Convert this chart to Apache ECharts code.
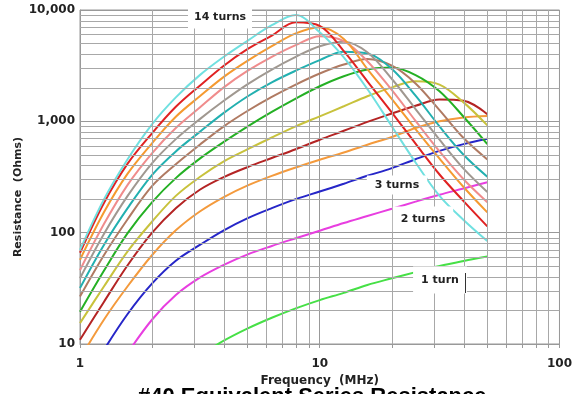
<!DOCTYPE html>
<html><head><meta charset="utf-8">
<script src="https://cdn.jsdelivr.net/npm/echarts@6/dist/echarts.min.js"></script>
<style>html,body{margin:0;padding:0;background:#fff}#c{width:575px;height:394px}</style>
</head><body><div id="c"></div>
<script>
// Frequency samples (MHz) shared by every curve
const freq = [1, 1.26, 1.58, 2, 2.51, 3.16, 3.98, 5.01, 6.31, 7.94, 10, 12.6, 15.8, 20, 25.1, 31.6, 39.8, 50];
// Resistance (Ohms) per number of turns (null = not drawn)
const turns1  = [null, null, null, null, null, 7.9, 10.7, 13.8, 17.2, 20.9, 24.8, 28.8, 33.9, 38.9, 44.2, 50.1, 55.6, 61];
const turns2  = [null, null, 8.3, 16.6, 27.5, 39.4, 51.3, 63.8, 75.9, 89, 104, 122, 141, 164, 190, 219, 249, 284];
const turns3  = [null, 8.9, 18.6, 35, 56, 77.6, 105, 135, 166, 200, 234, 275, 324, 380, 457, 543, 624, 698];
const turns4  = [7.4, 16.6, 33, 63, 105, 155, 209, 266, 324, 385, 452, 525, 617, 724, 871, 1000, 1084, 1117];
const turns5  = [10.9, 24, 51, 100, 166, 243, 316, 389, 468, 562, 684, 822, 989, 1175, 1380, 1567, 1530, 1160];
const turns6  = [15.4, 33, 68, 126, 214, 316, 437, 562, 716, 902, 1109, 1365, 1680, 2020, 2290, 2140, 1480, 920];
const turns7  = [19.5, 45.7, 99, 188, 309, 462, 653, 902, 1216, 1600, 2065, 2540, 2920, 3040, 2600, 1860, 1100, 625];
const turns8  = [26.7, 63, 132, 263, 412, 617, 902, 1245, 1660, 2140, 2690, 3240, 3630, 3160, 2190, 1260, 708, 455];
const turns9  = [31.8, 78, 166, 331, 537, 804, 1190, 1680, 2240, 2850, 3550, 4220, 4070, 2950, 1700, 900, 501, 318];
const turns10 = [39, 98, 214, 422, 692, 1047, 1530, 2160, 2920, 3800, 4730, 5190, 4170, 2400, 1290, 684, 376, 232];
const turns11 = [46, 120, 269, 519, 871, 1330, 2020, 2850, 3800, 4840, 5820, 5250, 3470, 1905, 1010, 537, 302, 188];
const turns12 = [57, 153, 339, 638, 1100, 1680, 2510, 3510, 4730, 6170, 7000, 5500, 2950, 1580, 850, 462, 257, 152];
const turns13 = [66, 186, 417, 785, 1350, 2090, 3160, 4470, 5890, 7760, 7200, 4270, 2290, 1200, 630, 333, 192, 114];
const turns14 = [70, 200, 457, 944, 1640, 2600, 3800, 5310, 7300, 9000, 6300, 3760, 1950, 900, 427, 214, 130, 84];

const xMinorGrid = [2,3,4,5,6,7,8,9,20,30,40,50,60,70,80,90];
const yMinorGrid = [20,30,40,50,60,70,80,90,200,300,400,500,600,700,800,900,2000,3000,4000,5000,6000,7000,8000,9000];

const FONT = 'DejaVu Sans';
const curves = [
  ['1 turn',   turns1,  '#46e046'],
  ['2 turns',  turns2,  '#e83ee0'],
  ['3 turns',  turns3,  '#2626c8'],
  ['4 turns',  turns4,  '#f49a3c'],
  ['5 turns',  turns5,  '#b42424'],
  ['6 turns',  turns6,  '#c8c23c'],
  ['7 turns',  turns7,  '#24b024'],
  ['8 turns',  turns8,  '#b07a62'],
  ['9 turns',  turns9,  '#22b0b0'],
  ['10 turns', turns10, '#a09890'],
  ['11 turns', turns11, '#f08c8c'],
  ['12 turns', turns12, '#f59a30'],
  ['13 turns', turns13, '#e02222'],
  ['14 turns', turns14, '#70e0e0']
];

const gridSeries = {
  type: 'line', data: [], silent: true, z: 1,
  markLine: {
    silent: true, symbol: 'none', animation: false,
    label: {show: false},
    lineStyle: {color: '#a8a8a8', width: 1, type: 'solid'},
    data: xMinorGrid.map(v => ({xAxis: v})).concat(yMinorGrid.map(v => ({yAxis: v})))
  }
};

const lineSeries = curves.map(([name, vals, color]) => ({
  name, type: 'line', smooth: 0.35, symbol: 'none', z: 3, clip: true,
  data: freq.map((f, i) => [f, vals[i]]).filter(p => p[1] != null),
  lineStyle: {color, width: 2}, itemStyle: {color}
}));

const labelStyle = {font: 'bold 11px "DejaVu Sans"', fill: '#222', backgroundColor: '#fff'};

const chart = echarts.init(document.getElementById('c'));
chart.setOption({
  animation: false,
  grid: {left: 80, right: 13, top: 10, bottom: 50, show: true, borderColor: '#999', borderWidth: 1},
  xAxis: {
    type: 'log', logBase: 10, min: 1, max: 100,
    axisLine: {show: true, lineStyle: {color: '#999'}},
    axisTick: {show: true, length: 4, lineStyle: {color: '#999'}},
    minorTick: {show: true, splitNumber: 9, length: 4, lineStyle: {color: '#999'}},
    splitLine: {show: true, lineStyle: {color: '#999'}},
    axisLabel: {color: '#222', fontFamily: FONT, fontWeight: 'bold', fontSize: 12, margin: 14},
    name: 'Frequency  (MHz)', nameLocation: 'middle', nameGap: 31,
    nameTextStyle: {color: '#222', fontFamily: FONT, fontWeight: 'bold', fontSize: 12}
  },
  yAxis: {
    type: 'log', logBase: 10, min: 10, max: 10000,
    axisLine: {show: true, lineStyle: {color: '#999'}},
    axisTick: {show: false},
    splitLine: {show: true, lineStyle: {color: '#999'}},
    axisLabel: {color: '#222', fontFamily: FONT, fontWeight: 'bold', fontSize: 12, margin: 5,
      formatter: v => Number(v).toLocaleString('en-US')}
  },
  series: [gridSeries].concat(lineSeries),
  graphic: [
    {type: 'text', x: 18, y: 197, rotation: Math.PI / 2, z: 100,
     style: {text: 'Resistance  (Ohms)', font: 'bold 11px "DejaVu Sans"', fill: '#222', align: 'center', verticalAlign: 'middle'}},
    {type: 'text', x: 220, y: 17, z: 100,
     style: Object.assign({text: '14 turns', align: 'center', verticalAlign: 'middle', padding: [6, 6, 6, 6]}, labelStyle)},
    {type: 'text', x: 397, y: 185, z: 100,
     style: Object.assign({text: '3 turns', align: 'center', verticalAlign: 'middle', padding: [4, 8, 4, 8]}, labelStyle)},
    {type: 'text', x: 423, y: 219, z: 100,
     style: Object.assign({text: '2 turns', align: 'center', verticalAlign: 'middle', padding: [7, 8, 7, 8]}, labelStyle)},
    {type: 'text', x: 440, y: 280, z: 100,
     style: Object.assign({text: '1 turn', align: 'center', verticalAlign: 'middle', padding: [8, 8, 8, 8]}, labelStyle)},
    {type: 'line', z: 101, shape: {x1: 465.5, y1: 273, x2: 465.5, y2: 293}, style: {stroke: '#333', lineWidth: 1}},
    {type: 'text', left: 138, top: 386, z: 100,
     style: {text: '#40 Equivalent Series Resistance', font: 'bold 22px "Liberation Sans"', fill: '#000'}}
  ]
});
</script></body></html>
